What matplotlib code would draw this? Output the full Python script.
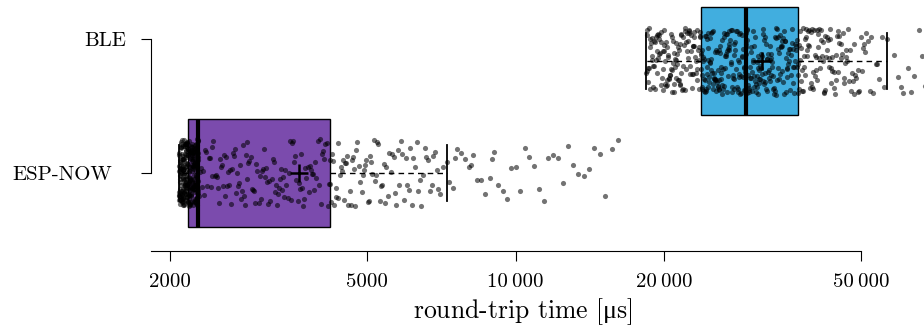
import matplotlib
matplotlib.use("Agg")
import matplotlib.pyplot as plt
from matplotlib.ticker import NullLocator
import seaborn as sns

# ---------------- data (round-trip times in microseconds) ----------------
categories = ["BLE", "ESP-NOW"]

esp_now_rtt = [
    # lowest quarter (dense cluster)
    2084, 2091, 2087, 2099, 2095, 2102, 2089, 2106, 2093, 2110,
    2097, 2115, 2101, 2086, 2120, 2104, 2124, 2108, 2129, 2112,
    2133, 2117, 2137, 2121, 2142, 2126, 2146, 2131, 2150, 2135,
    2155, 2139, 2159, 2144, 2163, 2148, 2168, 2152, 2171, 2157,
    2090, 2161, 2094, 2166, 2098, 2170, 2103, 2173, 2107, 2174,
    2111, 2088, 2116, 2092, 2119, 2096, 2123, 2100, 2127, 2105,
    2130, 2109, 2134, 2113, 2138, 2118, 2141, 2122, 2145, 2125,
    2149, 2128, 2153, 2132, 2156, 2136, 2160, 2140, 2164, 2143,
    2167, 2147, 2169, 2151, 2172, 2154, 2085, 2158, 2089, 2162,
    2093, 2165, 2097, 2170, 2100, 2103, 2106, 2109, 2114, 2118,
    2121, 2126, 2129, 2132, 2136, 2140, 2143, 2147, 2151, 2155,
    2158, 2161, 2165, 2168, 2172, 2096, 2111, 2127, 2144, 2159,
    2086, 2119, 2138, 2152, 2166,
    # second quarter
    2176, 2183, 2179, 2190, 2186, 2197, 2181, 2204, 2193, 2211,
    2200, 2218, 2207, 2188, 2225, 2214, 2232, 2221, 2239, 2228,
    2246, 2235, 2253, 2242, 2260, 2249, 2266, 2256, 2272, 2263,
    2277, 2269, 2178, 2274, 2185, 2192, 2199, 2206, 2213, 2220,
    2227, 2234, 2241, 2248, 2255, 2262, 2268, 2275, 2180, 2187,
    2194, 2201, 2208, 2215, 2222, 2229, 2236, 2243, 2250, 2257,
    2264, 2270, 2276, 2182, 2189, 2196, 2203, 2210, 2217, 2224,
    2231, 2238, 2245, 2252, 2259, 2265, 2271, 2177, 2184, 2191,
    2198, 2205, 2212, 2219, 2226, 2233, 2240, 2247, 2254, 2261,
    2267, 2273, 2187, 2202, 2216, 2230, 2244, 2258, 2195, 2209,
    2223, 2237, 2251, 2264, 2180, 2199, 2213, 2226, 2242, 2257,
    2270, 2185, 2206, 2221, 2236, 2249, 2263, 2276, 2192, 2215,
    2229, 2246, 2260, 2274, 2201,
    # third quarter
    2281, 2395, 2512, 2630, 2755, 2880, 3020, 3160, 3310, 3470,
    3630, 3800, 3985, 4170, 2290, 2405, 2523, 2642, 2768, 2895,
    3035, 3175, 3325, 3485, 3648, 3820, 4005, 4190, 2300, 2415,
    2534, 2655, 2781, 2910, 3050, 3190, 3342, 3500, 3665, 3840,
    4025, 4205, 2310, 2426, 2545, 2668, 2795, 2925, 3065, 3208,
    3358, 3515, 3682, 3858, 4045, 2321, 2437, 2556, 2680, 2808,
    2940, 3080, 3224, 3374, 3532, 3700, 3876, 4065, 2332, 2448,
    2568, 2693, 2822, 2955, 3095, 3240, 3390, 3550, 3718, 3895,
    4085, 2343, 2460, 2580, 2706, 2835, 2970, 3110, 3256, 3407,
    3568, 3736, 3914, 4105, 2354, 2472, 2592, 2718, 2848, 2985,
    3126, 3272, 3424, 3586, 3754, 3933, 4125, 2365, 2483, 2605,
    2730, 2862, 3000, 3142, 3288, 3440, 3604, 3772, 3952, 4145,
    2376, 2495, 2618, 2743, 2868,
    # upper quarter
    4220, 4260, 4300, 4340, 4380, 4420, 4460, 4500, 4545, 4590,
    4635, 4680, 4730, 4780, 4830, 4880, 4935, 4990, 5045, 5100,
    5160, 5220, 5280, 5345, 5410, 5480, 5550, 5620, 5700, 5780,
    5860, 5945, 6030, 6120, 6210, 6305, 6400, 6500, 6600, 6705,
    6810, 6920, 7030, 7140, 7250, 4235, 4280, 4325, 4370, 4440,
    4480, 4525, 4570, 4615, 4660, 4710, 4760, 4855, 4905, 4960,
    5020, 5075, 5130, 5190, 5250, 5315, 5380, 5445, 5515, 5590,
    5665, 5740, 5820, 5905, 5990, 6075, 6165, 6260, 6355, 6450,
    6550, 6655, 6760, 6870, 6980,
    7350, 7480, 7620, 7760, 7900, 8050, 8200, 8360, 8520, 8690,
    8860, 9040, 9220, 9410, 9600, 9800, 10000, 10220, 10440, 10660,
    10900, 11140, 11390, 11650, 11920, 12200, 12480, 12780, 13090, 13400,
    13730, 14070, 14420, 14800, 15200, 15650, 16150, 7550, 8120, 8950,
]

ble_rtt = [
    # lowest quarter
    18370, 18420, 18480, 18530, 18580, 18640, 18690, 18740, 18800, 18850,
    18900, 18960, 19010, 19060, 19120, 19170, 19220, 19280, 19330, 19390,
    19440, 19500, 19550, 19610, 19660, 19720, 19780, 19830, 19890, 19950,
    20000, 20060, 20120, 20180, 20230, 20290, 20350, 20410, 20470, 20530,
    20590, 20650, 20710, 20770, 20830, 20890, 20950, 21010, 21080, 21140,
    21200, 21260, 21330, 21390, 21450, 21520, 21580, 21650, 21710, 21780,
    21840, 21910, 21980, 22040, 22110, 22180, 22250, 22310, 22380, 22450,
    22520, 22590, 22660, 22730, 22800, 22870, 22940, 23010, 23090, 23160,
    23230, 23300, 23380, 23450, 23530, 23600, 23680, 18550, 18720, 18910,
    19090, 19300, 19470, 19690, 19870, 20090, 20260, 20500, 20680, 20920,
    21110, 21360, 21560, 21820, 22010, 22290, 22490, 22770, 22990, 23270,
    23490, 18450, 19200, 19980, 20800, 21600, 22400, 23140, 23560, 23650,
    20380, 21050, 21470, 22150, 22850,
    # second quarter
    23730, 23800, 23880, 23960, 24040, 24120, 24200, 24280, 24360, 24440,
    24520, 24600, 24690, 24770, 24850, 24940, 25020, 25110, 25190, 25280,
    25370, 25450, 25540, 25630, 25720, 25810, 25900, 25990, 26080, 26170,
    26260, 26360, 26450, 26540, 26640, 26730, 26830, 26920, 27020, 27120,
    27220, 27310, 27410, 27510, 27610, 27720, 27820, 27920, 28020, 28130,
    28230, 28340, 28440, 28550, 28660, 28770, 28880, 28990, 29100, 29210,
    23760, 23920, 24080, 24240, 24400, 24560, 24730, 24890, 25060, 25230,
    25410, 25580, 25760, 25940, 26120, 26310, 26500, 26690, 26880, 27070,
    27270, 27460, 27660, 27870, 28070, 28280, 28490, 28710, 28930, 29150,
    23850, 24180, 24500, 24820, 25150, 25490, 25850, 26210, 26590, 26970,
    27360, 27760, 28180, 28600, 29040, 24000, 24650, 25320, 26030, 26780,
    23790, 24460, 25090, 25770, 26400, 27040, 27690, 28310, 28820, 29190,
    27560, 28380, 29240, 24320, 25680,
    # third quarter
    29280, 29390, 29500, 29610, 29720, 29840, 29950, 30070, 30180, 30300,
    30420, 30540, 30660, 30780, 30900, 31030, 31150, 31280, 31400, 31530,
    31660, 31790, 31920, 32050, 32190, 32320, 32460, 32600, 32730, 32870,
    33010, 33160, 33300, 33440, 33590, 33740, 33880, 34030, 34180, 34340,
    34490, 34650, 34800, 34960, 35120, 35280, 35450, 35610, 35780, 35940,
    36110, 36290, 36460, 36630, 36810, 36990, 37170, 29330, 29560, 29780,
    30010, 30240, 30480, 30720, 30970, 31210, 31470, 31720, 31980, 32250,
    32530, 32800, 33080, 33370, 33660, 33960, 34260, 34570, 34880, 35200,
    35530, 35860, 36200, 36550, 36900, 37240, 29450, 29900, 30360, 30840,
    31340, 31850, 32380, 32930, 33510, 34110, 34730, 35370, 36030, 36720,
    29660, 30600, 31590, 32660, 33800, 35040, 36370, 30120, 31100, 32120,
    29410, 30270, 31060, 31920, 32760, 33640, 34560, 35480, 36380, 37200,
    33230, 34420, 35700, 37050, 30950,
    # upper quarter
    37300, 37450, 37600, 37760, 37910, 38070, 38230, 38390, 38550, 38720,
    38880, 39050, 39220, 39390, 39570, 39740, 39920, 40100, 40280, 40470,
    40650, 40840, 41030, 41230, 41420, 41620, 41820, 42030, 42230, 42440,
    42650, 42870, 43090, 43310, 43530, 43760, 43990, 44230, 44470, 44710,
    44960, 45210, 45470, 45730, 46000, 46280, 46560, 46850, 47150, 47460,
    47780, 48110, 48460, 48820, 49200, 49600, 50030, 50500, 51000, 51550,
    52150, 52800, 53500, 54300, 55200, 56430, 37380, 37680, 37990, 38310,
    38640, 38970, 39310, 39660, 40010, 40380, 40750, 41130, 41520, 41920,
    42340, 42760, 43200, 43650, 44110, 44590, 45080, 45600, 46140, 46700,
    47300, 47950, 48640, 49400, 50250, 51250, 52450, 53900, 55700, 37850,
    38800, 39800, 40900, 42100, 43400, 44850, 46400, 48300, 50800, 38480,
    40560, 43000,
    58200, 59500, 60800, 62300, 63900, 65600, 67400, 69500, 71800, 74500,
    60100, 63000, 66500,
]

box_colors = ["#41aedf", "#7b4bad"]  # BLE, ESP-NOW
xtick_values = [2000, 5000, 10000, 20000, 50000]
xtick_labels = ["2000", "5000", "10\u2009000", "20\u2009000", "50\u2009000"]
x_label = r"round-trip time [$\mathrm{\mu}$s]"

# ---------------- styling ----------------
plt.rcParams["font.family"] = ["cmr10", "DejaVu Serif"]
plt.rcParams["axes.formatter.use_mathtext"] = True
plt.rcParams["mathtext.fontset"] = "custom"
plt.rcParams["mathtext.rm"] = "Liberation Serif"

fig = plt.figure(figsize=(9.24, 3.29), dpi=100)
ax = fig.add_axes([151 / 924, 78 / 329, 773 / 924, 251 / 329])
ax.set_xscale("log")

values = ble_rtt + esp_now_rtt
labels = [categories[0]] * len(ble_rtt) + [categories[1]] * len(esp_now_rtt)
sns.stripplot(x=values, y=labels, order=categories, orient="h", jitter=0.3,
              color="black", alpha=0.55, size=3.7, linewidth=0, ax=ax,
              zorder=2)

bp = ax.boxplot([ble_rtt, esp_now_rtt], positions=[0, 1],
                orientation="horizontal", widths=0.97, whis=1.5,
                patch_artist=True, showfliers=False, showmeans=True,
                manage_ticks=False, capwidths=0.5,
                medianprops=dict(color="black", linewidth=3.0),
                whiskerprops=dict(color="black", linewidth=1.0,
                                  linestyle=(0, (4, 3))),
                capprops=dict(color="black", linewidth=1.3),
                boxprops=dict(edgecolor="black", linewidth=1.0),
                meanprops=dict(marker="+", markersize=13,
                               markeredgecolor="black",
                               markeredgewidth=1.8))
for patch, c in zip(bp["boxes"], box_colors):
    patch.set_facecolor(c)
    patch.set_zorder(1)
for key in ["medians", "whiskers", "caps", "means"]:
    for ln in bp[key]:
        ln.set_zorder(3)

xlim = (1830, 67030)
ax.set_xlim(*xlim)
ax.set_ylim(1.701, -0.55)

ax.set_xticks(xtick_values)
ax.set_xticklabels(xtick_labels)
ax.xaxis.set_minor_locator(NullLocator())
ax.set_yticks([-0.2, 1.0])
ax.set_yticklabels(categories)
ax.tick_params(axis="x", length=7.5, width=0.8, labelsize=15, pad=8.5)
ax.tick_params(axis="y", length=7.5, width=0.8, labelsize=15, pad=10.5)
ax.get_yticklabels()[1].set_x(-14 / 773)

for s in ["top", "right"]:
    ax.spines[s].set_visible(False)
ax.spines["left"].set_bounds(-0.2, 1.0)
ax.spines["bottom"].set_bounds(xlim[0], 50000)
ax.spines["left"].set_linewidth(0.8)
ax.spines["bottom"].set_linewidth(0.8)

ax.set_xlabel(x_label, fontsize=18.5, va="baseline")
ax.xaxis.set_label_coords((523 - 151) / 773, (251 - 318.5) / 251)

fig.savefig("out.png", dpi=100)
